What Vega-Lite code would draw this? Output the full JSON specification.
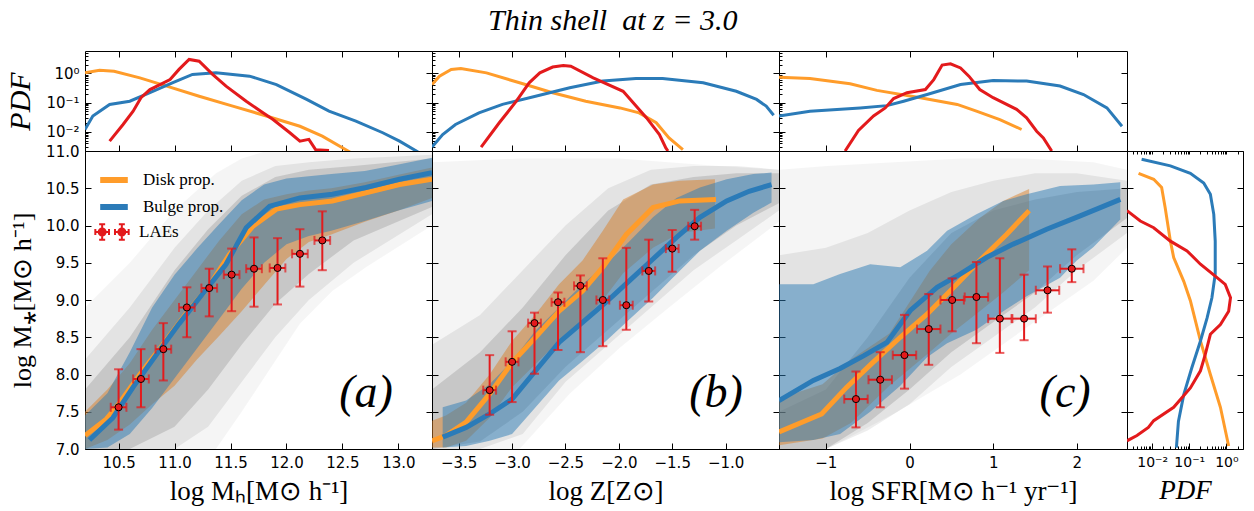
{
"$schema":"https://vega.github.io/schema/vega-lite/v6.json",
"background":"white",
"padding":{"left":5,"top":6,"right":5,"bottom":2},
"title":{"text":"Thin shell\u00a0\u00a0at z = 3.0","font":"Liberation Serif","fontStyle":"italic","fontSize":30,"fontWeight":"normal","anchor":"middle","offset":14,"dx":-12,"color":"black"},
"columns":4,"spacing":0,"bounds":"flush","align":"each",
"resolve":{"scale":{"x":"independent","y":"independent","color":"independent","fill":"independent"},"legend":{"color":"independent","fill":"independent"}},
"datasets":{
"lines":[
{"p":"a","s":"Disk prop.","x":10.2,"y":7.18},{"p":"a","s":"Disk prop.","x":10.39,"y":7.4},{"p":"a","s":"Disk prop.","x":10.5,"y":7.6},{"p":"a","s":"Disk prop.","x":10.69,"y":8.0},{"p":"a","s":"Disk prop.","x":10.9,"y":8.41},{"p":"a","s":"Disk prop.","x":11.1,"y":8.81},{"p":"a","s":"Disk prop.","x":11.3,"y":9.17},{"p":"a","s":"Disk prop.","x":11.49,"y":9.61},{"p":"a","s":"Disk prop.","x":11.7,"y":9.99},{"p":"a","s":"Disk prop.","x":11.91,"y":10.22},{"p":"a","s":"Disk prop.","x":12.12,"y":10.28},{"p":"a","s":"Disk prop.","x":12.41,"y":10.33},{"p":"a","s":"Disk prop.","x":12.71,"y":10.44},{"p":"a","s":"Disk prop.","x":13.01,"y":10.55},{"p":"a","s":"Disk prop.","x":13.3,"y":10.62},
{"p":"a","s":"Bulge prop.","x":10.24,"y":7.12},{"p":"a","s":"Bulge prop.","x":10.45,"y":7.42},{"p":"a","s":"Bulge prop.","x":10.63,"y":7.83},{"p":"a","s":"Bulge prop.","x":10.84,"y":8.27},{"p":"a","s":"Bulge prop.","x":11.04,"y":8.68},{"p":"a","s":"Bulge prop.","x":11.25,"y":9.08},{"p":"a","s":"Bulge prop.","x":11.46,"y":9.48},{"p":"a","s":"Bulge prop.","x":11.64,"y":9.97},{"p":"a","s":"Bulge prop.","x":11.85,"y":10.26},{"p":"a","s":"Bulge prop.","x":12.12,"y":10.37},{"p":"a","s":"Bulge prop.","x":12.41,"y":10.42},{"p":"a","s":"Bulge prop.","x":12.71,"y":10.51},{"p":"a","s":"Bulge prop.","x":13.01,"y":10.62},{"p":"a","s":"Bulge prop.","x":13.3,"y":10.71},
{"p":"b","s":"Disk prop.","x":-3.75,"y":7.11},{"p":"b","s":"Disk prop.","x":-3.62,"y":7.18},{"p":"b","s":"Disk prop.","x":-3.43,"y":7.36},{"p":"b","s":"Disk prop.","x":-3.21,"y":7.74},{"p":"b","s":"Disk prop.","x":-3.0,"y":8.16},{"p":"b","s":"Disk prop.","x":-2.78,"y":8.5},{"p":"b","s":"Disk prop.","x":-2.56,"y":8.85},{"p":"b","s":"Disk prop.","x":-2.34,"y":9.12},{"p":"b","s":"Disk prop.","x":-2.15,"y":9.44},{"p":"b","s":"Disk prop.","x":-1.93,"y":9.88},{"p":"b","s":"Disk prop.","x":-1.68,"y":10.24},{"p":"b","s":"Disk prop.","x":-1.43,"y":10.33},{"p":"b","s":"Disk prop.","x":-1.09,"y":10.35},
{"p":"b","s":"Bulge prop.","x":-3.65,"y":7.16},{"p":"b","s":"Bulge prop.","x":-3.43,"y":7.29},{"p":"b","s":"Bulge prop.","x":-3.21,"y":7.47},{"p":"b","s":"Bulge prop.","x":-3.0,"y":7.67},{"p":"b","s":"Bulge prop.","x":-2.78,"y":8.05},{"p":"b","s":"Bulge prop.","x":-2.56,"y":8.43},{"p":"b","s":"Bulge prop.","x":-2.34,"y":8.7},{"p":"b","s":"Bulge prop.","x":-2.12,"y":8.97},{"p":"b","s":"Bulge prop.","x":-1.9,"y":9.26},{"p":"b","s":"Bulge prop.","x":-1.68,"y":9.55},{"p":"b","s":"Bulge prop.","x":-1.46,"y":9.84},{"p":"b","s":"Bulge prop.","x":-1.24,"y":10.11},{"p":"b","s":"Bulge prop.","x":-0.99,"y":10.33},{"p":"b","s":"Bulge prop.","x":-0.78,"y":10.46},{"p":"b","s":"Bulge prop.","x":-0.57,"y":10.55},
{"p":"c","s":"Disk prop.","x":-1.56,"y":7.23},{"p":"c","s":"Disk prop.","x":-1.05,"y":7.47},{"p":"c","s":"Disk prop.","x":-0.75,"y":7.83},{"p":"c","s":"Disk prop.","x":-0.43,"y":8.17},{"p":"c","s":"Disk prop.","x":-0.11,"y":8.5},{"p":"c","s":"Disk prop.","x":0.21,"y":8.81},{"p":"c","s":"Disk prop.","x":0.53,"y":9.17},{"p":"c","s":"Disk prop.","x":0.84,"y":9.53},{"p":"c","s":"Disk prop.","x":1.16,"y":9.88},{"p":"c","s":"Disk prop.","x":1.43,"y":10.2},
{"p":"c","s":"Bulge prop.","x":-1.56,"y":7.65},{"p":"c","s":"Bulge prop.","x":-1.15,"y":7.92},{"p":"c","s":"Bulge prop.","x":-0.83,"y":8.08},{"p":"c","s":"Bulge prop.","x":-0.55,"y":8.25},{"p":"c","s":"Bulge prop.","x":-0.27,"y":8.43},{"p":"c","s":"Bulge prop.","x":0.01,"y":8.86},{"p":"c","s":"Bulge prop.","x":0.33,"y":9.17},{"p":"c","s":"Bulge prop.","x":0.61,"y":9.35},{"p":"c","s":"Bulge prop.","x":0.92,"y":9.57},{"p":"c","s":"Bulge prop.","x":1.24,"y":9.75},{"p":"c","s":"Bulge prop.","x":1.64,"y":9.95},{"p":"c","s":"Bulge prop.","x":2.04,"y":10.13},{"p":"c","s":"Bulge prop.","x":2.52,"y":10.35}
],
"bands":[
{"p":"a","s":"Disk prop.","x":10.2,"lo":7.0,"hi":7.5},{"p":"a","s":"Disk prop.","x":10.4,"lo":7.12,"hi":7.8},{"p":"a","s":"Disk prop.","x":10.6,"lo":7.33,"hi":8.15},{"p":"a","s":"Disk prop.","x":10.8,"lo":7.6,"hi":8.6},{"p":"a","s":"Disk prop.","x":11.0,"lo":7.85,"hi":9.0},{"p":"a","s":"Disk prop.","x":11.2,"lo":8.2,"hi":9.4},{"p":"a","s":"Disk prop.","x":11.4,"lo":8.52,"hi":9.8},{"p":"a","s":"Disk prop.","x":11.6,"lo":8.85,"hi":10.15},{"p":"a","s":"Disk prop.","x":11.8,"lo":9.2,"hi":10.35},{"p":"a","s":"Disk prop.","x":12.0,"lo":9.55,"hi":10.42},{"p":"a","s":"Disk prop.","x":12.2,"lo":9.78,"hi":10.47},{"p":"a","s":"Disk prop.","x":12.4,"lo":9.88,"hi":10.5},{"p":"a","s":"Disk prop.","x":12.7,"lo":10.05,"hi":10.58},{"p":"a","s":"Disk prop.","x":13.0,"lo":10.2,"hi":10.68},{"p":"a","s":"Disk prop.","x":13.3,"lo":10.37,"hi":10.78},
{"p":"a","s":"Bulge prop.","x":10.2,"lo":7.0,"hi":7.45},{"p":"a","s":"Bulge prop.","x":10.4,"lo":7.02,"hi":7.75},{"p":"a","s":"Bulge prop.","x":10.6,"lo":7.2,"hi":8.3},{"p":"a","s":"Bulge prop.","x":10.8,"lo":7.55,"hi":8.9},{"p":"a","s":"Bulge prop.","x":11.0,"lo":7.95,"hi":9.34},{"p":"a","s":"Bulge prop.","x":11.2,"lo":8.35,"hi":9.69},{"p":"a","s":"Bulge prop.","x":11.4,"lo":8.75,"hi":10.02},{"p":"a","s":"Bulge prop.","x":11.6,"lo":9.15,"hi":10.34},{"p":"a","s":"Bulge prop.","x":11.8,"lo":9.5,"hi":10.55},{"p":"a","s":"Bulge prop.","x":12.0,"lo":9.75,"hi":10.63},{"p":"a","s":"Bulge prop.","x":12.2,"lo":9.86,"hi":10.66},{"p":"a","s":"Bulge prop.","x":12.4,"lo":9.93,"hi":10.69},{"p":"a","s":"Bulge prop.","x":12.7,"lo":10.06,"hi":10.73},{"p":"a","s":"Bulge prop.","x":13.0,"lo":10.2,"hi":10.82},{"p":"a","s":"Bulge prop.","x":13.3,"lo":10.33,"hi":10.91},
{"p":"b","s":"Disk prop.","x":-3.75,"lo":7.02,"hi":7.38},{"p":"b","s":"Disk prop.","x":-3.62,"lo":7.02,"hi":7.45},{"p":"b","s":"Disk prop.","x":-3.43,"lo":7.11,"hi":7.62},{"p":"b","s":"Disk prop.","x":-3.21,"lo":7.42,"hi":8.0},{"p":"b","s":"Disk prop.","x":-3.0,"lo":7.83,"hi":8.45},{"p":"b","s":"Disk prop.","x":-2.78,"lo":8.14,"hi":8.81},{"p":"b","s":"Disk prop.","x":-2.56,"lo":8.45,"hi":9.21},{"p":"b","s":"Disk prop.","x":-2.34,"lo":8.72,"hi":9.53},{"p":"b","s":"Disk prop.","x":-2.15,"lo":9.0,"hi":9.93},{"p":"b","s":"Disk prop.","x":-1.96,"lo":9.36,"hi":10.35},{"p":"b","s":"Disk prop.","x":-1.68,"lo":9.7,"hi":10.55},{"p":"b","s":"Disk prop.","x":-1.43,"lo":9.9,"hi":10.6},{"p":"b","s":"Disk prop.","x":-1.1,"lo":9.96,"hi":10.62},
{"p":"b","s":"Bulge prop.","x":-3.65,"lo":7.02,"hi":7.56},{"p":"b","s":"Bulge prop.","x":-3.43,"lo":7.04,"hi":7.65},{"p":"b","s":"Bulge prop.","x":-3.21,"lo":7.11,"hi":7.87},{"p":"b","s":"Bulge prop.","x":-3.0,"lo":7.2,"hi":8.18},{"p":"b","s":"Bulge prop.","x":-2.78,"lo":7.56,"hi":8.59},{"p":"b","s":"Bulge prop.","x":-2.56,"lo":7.92,"hi":8.9},{"p":"b","s":"Bulge prop.","x":-2.34,"lo":8.18,"hi":9.21},{"p":"b","s":"Bulge prop.","x":-2.12,"lo":8.45,"hi":9.48},{"p":"b","s":"Bulge prop.","x":-1.9,"lo":8.74,"hi":9.79},{"p":"b","s":"Bulge prop.","x":-1.68,"lo":9.03,"hi":10.11},{"p":"b","s":"Bulge prop.","x":-1.46,"lo":9.35,"hi":10.37},{"p":"b","s":"Bulge prop.","x":-1.24,"lo":9.66,"hi":10.51},{"p":"b","s":"Bulge prop.","x":-0.99,"lo":9.93,"hi":10.62},{"p":"b","s":"Bulge prop.","x":-0.74,"lo":10.17,"hi":10.69},{"p":"b","s":"Bulge prop.","x":-0.57,"lo":10.31,"hi":10.71},
{"p":"c","s":"Disk prop.","x":-1.56,"lo":7.05,"hi":7.68},{"p":"c","s":"Disk prop.","x":-1.04,"lo":7.14,"hi":7.87},{"p":"c","s":"Disk prop.","x":-0.7,"lo":7.35,"hi":8.2},{"p":"c","s":"Disk prop.","x":-0.24,"lo":7.85,"hi":8.55},{"p":"c","s":"Disk prop.","x":0.24,"lo":8.3,"hi":9.39},{"p":"c","s":"Disk prop.","x":0.5,"lo":8.55,"hi":9.75},{"p":"c","s":"Disk prop.","x":0.84,"lo":8.85,"hi":10.1},{"p":"c","s":"Disk prop.","x":1.12,"lo":9.1,"hi":10.33},{"p":"c","s":"Disk prop.","x":1.43,"lo":9.4,"hi":10.49},
{"p":"c","s":"Bulge prop.","x":-1.56,"lo":7.09,"hi":9.21},{"p":"c","s":"Bulge prop.","x":-1.15,"lo":7.12,"hi":9.21},{"p":"c","s":"Bulge prop.","x":-0.83,"lo":7.2,"hi":9.35},{"p":"c","s":"Bulge prop.","x":-0.47,"lo":7.5,"hi":9.48},{"p":"c","s":"Bulge prop.","x":-0.11,"lo":7.85,"hi":9.44},{"p":"c","s":"Bulge prop.","x":0.21,"lo":8.23,"hi":9.66},{"p":"c","s":"Bulge prop.","x":0.45,"lo":8.42,"hi":9.93},{"p":"c","s":"Bulge prop.","x":0.8,"lo":8.6,"hi":10.15},{"p":"c","s":"Bulge prop.","x":1.12,"lo":8.85,"hi":10.33},{"p":"c","s":"Bulge prop.","x":1.4,"lo":9.05,"hi":10.42},{"p":"c","s":"Bulge prop.","x":1.8,"lo":9.3,"hi":10.53},{"p":"c","s":"Bulge prop.","x":2.0,"lo":9.53,"hi":10.54},{"p":"c","s":"Bulge prop.","x":2.2,"lo":9.71,"hi":10.55},{"p":"c","s":"Bulge prop.","x":2.52,"lo":10.08,"hi":10.58}
],
"grey":[
{"p":"a","l":1,"x":10.2,"lo":7,"hi":8.9},{"p":"a","l":1,"x":10.6,"lo":7,"hi":9.5},{"p":"a","l":1,"x":11.0,"lo":7,"hi":10.2},{"p":"a","l":1,"x":11.37,"lo":7,"hi":10.7},{"p":"a","l":1,"x":11.6,"lo":7.5,"hi":10.9},{"p":"a","l":1,"x":11.82,"lo":8.0,"hi":11},{"p":"a","l":1,"x":12.12,"lo":8.68,"hi":11},{"p":"a","l":1,"x":12.41,"lo":9.12,"hi":11},{"p":"a","l":1,"x":12.71,"lo":9.44,"hi":11},{"p":"a","l":1,"x":13.3,"lo":10.0,"hi":11},
{"p":"a","l":2,"x":10.2,"lo":7,"hi":8.2},{"p":"a","l":2,"x":10.6,"lo":7,"hi":8.9},{"p":"a","l":2,"x":11.0,"lo":7,"hi":9.7},{"p":"a","l":2,"x":11.3,"lo":7.3,"hi":10.2},{"p":"a","l":2,"x":11.6,"lo":7.9,"hi":10.6},{"p":"a","l":2,"x":11.9,"lo":8.5,"hi":10.8},{"p":"a","l":2,"x":12.2,"lo":9.0,"hi":10.85},{"p":"a","l":2,"x":12.6,"lo":9.5,"hi":10.9},{"p":"a","l":2,"x":13.3,"lo":10.15,"hi":10.95},
{"p":"a","l":3,"x":10.2,"lo":7,"hi":7.8},{"p":"a","l":3,"x":10.6,"lo":7,"hi":8.5},{"p":"a","l":3,"x":11.0,"lo":7.3,"hi":9.4},{"p":"a","l":3,"x":11.3,"lo":7.8,"hi":9.95},{"p":"a","l":3,"x":11.6,"lo":8.4,"hi":10.4},{"p":"a","l":3,"x":11.9,"lo":8.95,"hi":10.65},{"p":"a","l":3,"x":12.2,"lo":9.35,"hi":10.75},{"p":"a","l":3,"x":12.6,"lo":9.8,"hi":10.8},{"p":"a","l":3,"x":13.3,"lo":10.25,"hi":10.9},
{"p":"b","l":1,"x":-3.75,"lo":7,"hi":10.85},{"p":"b","l":1,"x":-2.93,"lo":7,"hi":10.9},{"p":"b","l":1,"x":-2.46,"lo":7.74,"hi":10.9},{"p":"b","l":1,"x":-1.99,"lo":8.36,"hi":10.9},{"p":"b","l":1,"x":-1.53,"lo":8.9,"hi":10.85},{"p":"b","l":1,"x":-1.06,"lo":9.44,"hi":10.8},{"p":"b","l":1,"x":-0.5,"lo":10.05,"hi":10.75},
{"p":"b","l":2,"x":-3.75,"lo":7,"hi":8.4},{"p":"b","l":2,"x":-3.3,"lo":7,"hi":8.8},{"p":"b","l":2,"x":-2.9,"lo":7.2,"hi":9.4},{"p":"b","l":2,"x":-2.5,"lo":7.9,"hi":10.0},{"p":"b","l":2,"x":-2.1,"lo":8.4,"hi":10.5},{"p":"b","l":2,"x":-1.7,"lo":8.9,"hi":10.75},{"p":"b","l":2,"x":-1.3,"lo":9.4,"hi":10.8},{"p":"b","l":2,"x":-0.9,"lo":9.8,"hi":10.8},{"p":"b","l":2,"x":-0.5,"lo":10.2,"hi":10.75},
{"p":"b","l":3,"x":-3.75,"lo":7,"hi":7.8},{"p":"b","l":3,"x":-3.3,"lo":7.1,"hi":8.3},{"p":"b","l":3,"x":-2.9,"lo":7.5,"hi":8.9},{"p":"b","l":3,"x":-2.5,"lo":8.1,"hi":9.6},{"p":"b","l":3,"x":-2.1,"lo":8.6,"hi":10.2},{"p":"b","l":3,"x":-1.7,"lo":9.1,"hi":10.55},{"p":"b","l":3,"x":-1.3,"lo":9.6,"hi":10.65},{"p":"b","l":3,"x":-0.9,"lo":10.0,"hi":10.7},{"p":"b","l":3,"x":-0.5,"lo":10.3,"hi":10.7},
{"p":"c","l":1,"x":-1.56,"lo":7,"hi":10.75},{"p":"c","l":1,"x":-0.99,"lo":7,"hi":10.8},{"p":"c","l":1,"x":-0.19,"lo":7.47,"hi":10.85},{"p":"c","l":1,"x":0.61,"lo":8.0,"hi":10.9},{"p":"c","l":1,"x":1.4,"lo":8.63,"hi":10.9},{"p":"c","l":1,"x":2.2,"lo":9.26,"hi":10.85},{"p":"c","l":1,"x":2.6,"lo":9.7,"hi":10.75},
{"p":"c","l":2,"x":-1.56,"lo":7,"hi":9.6},{"p":"c","l":2,"x":-1.0,"lo":7,"hi":9.7},{"p":"c","l":2,"x":-0.5,"lo":7.25,"hi":9.9},{"p":"c","l":2,"x":0,"lo":7.6,"hi":10.2},{"p":"c","l":2,"x":0.5,"lo":8.1,"hi":10.45},{"p":"c","l":2,"x":1.0,"lo":8.5,"hi":10.6},{"p":"c","l":2,"x":1.5,"lo":8.9,"hi":10.7},{"p":"c","l":2,"x":2.0,"lo":9.4,"hi":10.7},{"p":"c","l":2,"x":2.6,"lo":9.9,"hi":10.6},
{"p":"c","l":3,"x":-1.56,"lo":7,"hi":7.5},{"p":"c","l":3,"x":-1.0,"lo":7,"hi":7.8},{"p":"c","l":3,"x":-0.5,"lo":7.35,"hi":8.5},{"p":"c","l":3,"x":0,"lo":7.8,"hi":9.3},{"p":"c","l":3,"x":0.5,"lo":8.3,"hi":9.9},{"p":"c","l":3,"x":1.0,"lo":8.7,"hi":10.2},{"p":"c","l":3,"x":1.5,"lo":9.1,"hi":10.35},{"p":"c","l":3,"x":2.0,"lo":9.6,"hi":10.45},{"p":"c","l":3,"x":2.6,"lo":10.1,"hi":10.5}
],
"lae":[
{"p":"a","s":"LAEs","x":10.5,"y":7.56,"ylo":7.26,"yhi":8.07,"xlo":10.43,"xhi":10.57},{"p":"a","s":"LAEs","x":10.7,"y":7.94,"ylo":7.56,"yhi":8.34,"xlo":10.63,"xhi":10.77},{"p":"a","s":"LAEs","x":10.9,"y":8.34,"ylo":7.92,"yhi":8.69,"xlo":10.83,"xhi":10.97},{"p":"a","s":"LAEs","x":11.11,"y":8.9,"ylo":8.5,"yhi":9.17,"xlo":11.04,"xhi":11.18},{"p":"a","s":"LAEs","x":11.31,"y":9.16,"ylo":8.78,"yhi":9.42,"xlo":11.24,"xhi":11.38},{"p":"a","s":"LAEs","x":11.51,"y":9.34,"ylo":8.85,"yhi":9.69,"xlo":11.44,"xhi":11.58},{"p":"a","s":"LAEs","x":11.71,"y":9.42,"ylo":8.91,"yhi":9.84,"xlo":11.64,"xhi":11.78},{"p":"a","s":"LAEs","x":11.92,"y":9.43,"ylo":8.94,"yhi":9.83,"xlo":11.85,"xhi":11.99},{"p":"a","s":"LAEs","x":12.12,"y":9.62,"ylo":9.18,"yhi":9.95,"xlo":12.05,"xhi":12.19},{"p":"a","s":"LAEs","x":12.32,"y":9.8,"ylo":9.4,"yhi":10.19,"xlo":12.25,"xhi":12.39},
{"p":"b","s":"LAEs","x":-3.21,"y":7.79,"ylo":7.46,"yhi":8.26,"xlo":-3.27,"xhi":-3.15},{"p":"b","s":"LAEs","x":-3.0,"y":8.17,"ylo":7.63,"yhi":8.58,"xlo":-3.06,"xhi":-2.94},{"p":"b","s":"LAEs","x":-2.79,"y":8.69,"ylo":8.01,"yhi":8.83,"xlo":-2.85,"xhi":-2.73},{"p":"b","s":"LAEs","x":-2.57,"y":8.97,"ylo":8.33,"yhi":9.1,"xlo":-2.63,"xhi":-2.51},{"p":"b","s":"LAEs","x":-2.36,"y":9.19,"ylo":8.3,"yhi":9.33,"xlo":-2.42,"xhi":-2.3},{"p":"b","s":"LAEs","x":-2.15,"y":9.0,"ylo":8.38,"yhi":9.56,"xlo":-2.21,"xhi":-2.09},{"p":"b","s":"LAEs","x":-1.93,"y":8.93,"ylo":8.6,"yhi":9.7,"xlo":-1.99,"xhi":-1.87},{"p":"b","s":"LAEs","x":-1.72,"y":9.39,"ylo":8.98,"yhi":9.81,"xlo":-1.78,"xhi":-1.66},{"p":"b","s":"LAEs","x":-1.5,"y":9.69,"ylo":9.38,"yhi":9.94,"xlo":-1.56,"xhi":-1.44},{"p":"b","s":"LAEs","x":-1.29,"y":9.99,"ylo":9.81,"yhi":10.21,"xlo":-1.35,"xhi":-1.23},
{"p":"c","s":"LAEs","x":-0.64,"y":7.67,"ylo":7.29,"yhi":8.04,"xlo":-0.78,"xhi":-0.5},{"p":"c","s":"LAEs","x":-0.35,"y":7.93,"ylo":7.56,"yhi":8.3,"xlo":-0.49,"xhi":-0.21},{"p":"c","s":"LAEs","x":-0.06,"y":8.26,"ylo":7.81,"yhi":8.8,"xlo":-0.2,"xhi":0.08},{"p":"c","s":"LAEs","x":0.23,"y":8.61,"ylo":8.13,"yhi":9.08,"xlo":0.09,"xhi":0.37},{"p":"c","s":"LAEs","x":0.51,"y":9.0,"ylo":8.58,"yhi":9.29,"xlo":0.37,"xhi":0.65},{"p":"c","s":"LAEs","x":0.8,"y":9.04,"ylo":8.42,"yhi":9.51,"xlo":0.66,"xhi":0.94},{"p":"c","s":"LAEs","x":1.08,"y":8.75,"ylo":8.29,"yhi":9.56,"xlo":0.94,"xhi":1.22},{"p":"c","s":"LAEs","x":1.37,"y":8.75,"ylo":8.46,"yhi":9.34,"xlo":1.23,"xhi":1.51},{"p":"c","s":"LAEs","x":1.65,"y":9.13,"ylo":8.83,"yhi":9.45,"xlo":1.51,"xhi":1.79},{"p":"c","s":"LAEs","x":1.94,"y":9.42,"ylo":9.24,"yhi":9.68,"xlo":1.8,"xhi":2.08}
],
"pdf":[
{"p":"a","s":"D","x":10.2,"v":1.05},{"p":"a","s":"D","x":10.33,"v":1.29},{"p":"a","s":"D","x":10.46,"v":1.2},{"p":"a","s":"D","x":10.69,"v":0.71},{"p":"a","s":"D","x":10.93,"v":0.37},{"p":"a","s":"D","x":11.22,"v":0.166},{"p":"a","s":"D","x":11.52,"v":0.076},{"p":"a","s":"D","x":11.82,"v":0.035},{"p":"a","s":"D","x":12.12,"v":0.0155},{"p":"a","s":"D","x":12.32,"v":0.0071},{"p":"a","s":"D","x":12.55,"v":0.0022},{"p":"a","s":"D","x":12.7,"v":0.001},
{"p":"a","s":"B","x":10.2,"v":0.012},{"p":"a","s":"B","x":10.27,"v":0.035},{"p":"a","s":"B","x":10.42,"v":0.087},{"p":"a","s":"B","x":10.6,"v":0.112},{"p":"a","s":"B","x":10.78,"v":0.219},{"p":"a","s":"B","x":10.98,"v":0.479},{"p":"a","s":"B","x":11.16,"v":0.93},{"p":"a","s":"B","x":11.37,"v":1.05},{"p":"a","s":"B","x":11.67,"v":0.81},{"p":"a","s":"B","x":11.91,"v":0.417},{"p":"a","s":"B","x":12.18,"v":0.129},{"p":"a","s":"B","x":12.38,"v":0.051},{"p":"a","s":"B","x":12.62,"v":0.0234},{"p":"a","s":"B","x":12.86,"v":0.0093},{"p":"a","s":"B","x":13.01,"v":0.0048},{"p":"a","s":"B","x":13.16,"v":0.0022},{"p":"a","s":"B","x":13.3,"v":0.001},
{"p":"a","s":"L","x":10.42,"v":0.0048},{"p":"a","s":"L","x":10.54,"v":0.0178},{"p":"a","s":"L","x":10.63,"v":0.051},{"p":"a","s":"L","x":10.7,"v":0.148},{"p":"a","s":"L","x":10.78,"v":0.28},{"p":"a","s":"L","x":10.87,"v":0.417},{"p":"a","s":"L","x":10.96,"v":0.62},{"p":"a","s":"L","x":11.04,"v":1.38},{"p":"a","s":"L","x":11.13,"v":3.02},{"p":"a","s":"L","x":11.22,"v":2.63},{"p":"a","s":"L","x":11.34,"v":0.93},{"p":"a","s":"L","x":11.46,"v":0.37},{"p":"a","s":"L","x":11.64,"v":0.112},{"p":"a","s":"L","x":11.79,"v":0.0447},{"p":"a","s":"L","x":11.88,"v":0.0263},{"p":"a","s":"L","x":12.03,"v":0.0093},{"p":"a","s":"L","x":12.12,"v":0.0048},{"p":"a","s":"L","x":12.2,"v":0.0055},{"p":"a","s":"L","x":12.26,"v":0.00245},{"p":"a","s":"L","x":12.38,"v":0.0023},
{"p":"b","s":"D","x":-3.75,"v":0.417},{"p":"b","s":"D","x":-3.68,"v":0.81},{"p":"b","s":"D","x":-3.57,"v":1.38},{"p":"b","s":"D","x":-3.48,"v":1.48},{"p":"b","s":"D","x":-3.24,"v":1.05},{"p":"b","s":"D","x":-2.93,"v":0.479},{"p":"b","s":"D","x":-2.62,"v":0.219},{"p":"b","s":"D","x":-2.31,"v":0.112},{"p":"b","s":"D","x":-1.99,"v":0.066},{"p":"b","s":"D","x":-1.81,"v":0.0447},{"p":"b","s":"D","x":-1.65,"v":0.0204},{"p":"b","s":"D","x":-1.53,"v":0.0062},{"p":"b","s":"D","x":-1.4,"v":0.00245},
{"p":"b","s":"B","x":-3.75,"v":0.003},{"p":"b","s":"B","x":-3.65,"v":0.0081},{"p":"b","s":"B","x":-3.53,"v":0.0178},{"p":"b","s":"B","x":-3.31,"v":0.0447},{"p":"b","s":"B","x":-3.09,"v":0.087},{"p":"b","s":"B","x":-2.78,"v":0.166},{"p":"b","s":"B","x":-2.46,"v":0.324},{"p":"b","s":"B","x":-2.15,"v":0.55},{"p":"b","s":"B","x":-1.84,"v":0.676},{"p":"b","s":"B","x":-1.59,"v":0.676},{"p":"b","s":"B","x":-1.21,"v":0.479},{"p":"b","s":"B","x":-0.9,"v":0.245},{"p":"b","s":"B","x":-0.71,"v":0.129},{"p":"b","s":"B","x":-0.62,"v":0.076},{"p":"b","s":"B","x":-0.55,"v":0.037},
{"p":"b","s":"L","x":-3.29,"v":0.003},{"p":"b","s":"L","x":-3.12,"v":0.0204},{"p":"b","s":"L","x":-2.96,"v":0.112},{"p":"b","s":"L","x":-2.84,"v":0.479},{"p":"b","s":"L","x":-2.74,"v":1.05},{"p":"b","s":"L","x":-2.62,"v":1.66},{"p":"b","s":"L","x":-2.52,"v":1.86},{"p":"b","s":"L","x":-2.45,"v":1.78},{"p":"b","s":"L","x":-2.24,"v":0.71},{"p":"b","s":"L","x":-1.96,"v":0.245},{"p":"b","s":"L","x":-1.74,"v":0.03},{"p":"b","s":"L","x":-1.62,"v":0.0081},{"p":"b","s":"L","x":-1.56,"v":0.0028},{"p":"b","s":"L","x":-1.54,"v":0.0022},
{"p":"c","s":"D","x":-1.56,"v":0.74},{"p":"c","s":"D","x":-1.19,"v":0.676},{"p":"c","s":"D","x":-0.71,"v":0.447},{"p":"c","s":"D","x":-0.39,"v":0.263},{"p":"c","s":"D","x":0.13,"v":0.148},{"p":"c","s":"D","x":0.57,"v":0.087},{"p":"c","s":"D","x":0.8,"v":0.051},{"p":"c","s":"D","x":1.08,"v":0.0263},{"p":"c","s":"D","x":1.34,"v":0.012},
{"p":"c","s":"B","x":-1.56,"v":0.035},{"p":"c","s":"B","x":-1.19,"v":0.051},{"p":"c","s":"B","x":-0.59,"v":0.066},{"p":"c","s":"B","x":-0.27,"v":0.079},{"p":"c","s":"B","x":-0.07,"v":0.112},{"p":"c","s":"B","x":0.21,"v":0.19},{"p":"c","s":"B","x":0.61,"v":0.417},{"p":"c","s":"B","x":1.0,"v":0.575},{"p":"c","s":"B","x":1.4,"v":0.55},{"p":"c","s":"B","x":1.8,"v":0.37},{"p":"c","s":"B","x":2.08,"v":0.19},{"p":"c","s":"B","x":2.36,"v":0.066},{"p":"c","s":"B","x":2.54,"v":0.0155},
{"p":"c","s":"L","x":-0.77,"v":0.0022},{"p":"c","s":"L","x":-0.61,"v":0.0112},{"p":"c","s":"L","x":-0.43,"v":0.035},{"p":"c","s":"L","x":-0.29,"v":0.066},{"p":"c","s":"L","x":-0.19,"v":0.138},{"p":"c","s":"L","x":-0.03,"v":0.219},{"p":"c","s":"L","x":0.19,"v":0.282},{"p":"c","s":"L","x":0.29,"v":0.617},{"p":"c","s":"L","x":0.39,"v":1.95},{"p":"c","s":"L","x":0.49,"v":2.14},{"p":"c","s":"L","x":0.61,"v":1.55},{"p":"c","s":"L","x":0.71,"v":0.81},{"p":"c","s":"L","x":0.84,"v":0.282},{"p":"c","s":"L","x":1.0,"v":0.148},{"p":"c","s":"L","x":1.28,"v":0.059},{"p":"c","s":"L","x":1.4,"v":0.03},{"p":"c","s":"L","x":1.52,"v":0.0105},{"p":"c","s":"L","x":1.6,"v":0.0062},{"p":"c","s":"L","x":1.7,"v":0.0022}
],
"pdfr":[
{"s":"B","y":10.89,"v":0.0052},{"s":"B","y":10.8,"v":0.031},{"s":"B","y":10.7,"v":0.107},{"s":"B","y":10.57,"v":0.245},{"s":"B","y":10.42,"v":0.37},{"s":"B","y":10.15,"v":0.457},{"s":"B","y":9.79,"v":0.5},{"s":"B","y":9.35,"v":0.5},{"s":"B","y":9.03,"v":0.407},{"s":"B","y":8.76,"v":0.302},{"s":"B","y":8.45,"v":0.2},{"s":"B","y":8.09,"v":0.117},{"s":"B","y":7.73,"v":0.071},{"s":"B","y":7.37,"v":0.051},{"s":"B","y":7.02,"v":0.045},
{"s":"D","y":10.7,"v":0.0043},{"s":"D","y":10.62,"v":0.011},{"s":"D","y":10.51,"v":0.018},{"s":"D","y":10.24,"v":0.0224},{"s":"D","y":9.79,"v":0.031},{"s":"D","y":9.57,"v":0.038},{"s":"D","y":9.25,"v":0.071},{"s":"D","y":8.99,"v":0.107},{"s":"D","y":8.45,"v":0.2},{"s":"D","y":8.0,"v":0.37},{"s":"D","y":7.56,"v":0.69},{"s":"D","y":7.04,"v":1.15},
{"s":"L","y":10.2,"v":0.0021},{"s":"L","y":10.06,"v":0.0048},{"s":"L","y":9.97,"v":0.011},{"s":"L","y":9.79,"v":0.031},{"s":"L","y":9.66,"v":0.087},{"s":"L","y":9.48,"v":0.2},{"s":"L","y":9.32,"v":0.5},{"s":"L","y":9.21,"v":0.93},{"s":"L","y":9.03,"v":1.29},{"s":"L","y":8.85,"v":1.15},{"s":"L","y":8.67,"v":0.69},{"s":"L","y":8.54,"v":0.37},{"s":"L","y":8.27,"v":0.27},{"s":"L","y":8.05,"v":0.2},{"s":"L","y":7.82,"v":0.107},{"s":"L","y":7.56,"v":0.038},{"s":"L","y":7.38,"v":0.011},{"s":"L","y":7.29,"v":0.0079},{"s":"L","y":7.18,"v":0.0039},{"s":"L","y":7.11,"v":0.0021}
],
"lab":[{"p":"a","x":12.71,"y":7.75,"t":"(a)"},{"p":"b","x":-1.09,"y":7.75,"t":"(b)"},{"p":"c","x":1.86,"y":7.75,"t":"(c)"}]
},
"concat":[
{"width":347,"height":100,"data":{"name":"pdf"},"transform":[{"filter":"datum.p=='a'"}],
 "resolve":{"axis":{"x":"independent","y":"independent"}},
 "layer":[
  {"transform":[{"filter":"datum.s=='D'"}],"mark":{"type":"line","color":"#ff9c2a","strokeWidth":3,"clip":true},"encoding":{"x":{"field":"x","type":"quantitative","scale":{"domain":[10.2,13.3],"nice":false,"zero":false},"axis":{"orient":"bottom","values":[10.5,11,11.5,12,12.5,13],"labels":false,"title":null}},"y":{"field":"v","type":"quantitative","scale":{"type":"log","domain":[0.0022,5.9],"nice":false},"axis":{"orient":"left","values":[0.01,0.1,1],"labelExpr":"datum.value < 0.05 ? '10⁻²' : datum.value < 0.5 ? '10⁻¹' : '10⁰'","title":"PDF","titleFontStyle":"italic","titleFontSize":30,"titlePadding":10}}}},
  {"transform":[{"filter":"datum.s=='B'"}],"mark":{"type":"line","color":"#2b7bb8","strokeWidth":3,"clip":true},"encoding":{"x":{"field":"x","type":"quantitative","scale":{"domain":[10.2,13.3],"nice":false,"zero":false},"axis":null},"y":{"field":"v","type":"quantitative","scale":{"type":"log","domain":[0.0022,5.9],"nice":false},"axis":{"orient":"left","values":[0.003,0.004,0.005,0.006,0.007,0.008,0.009,0.02,0.03,0.04,0.05,0.06,0.07,0.08,0.09,0.2,0.3,0.4,0.5,0.6,0.7,0.8,0.9,2,3,4,5],"labels":false,"title":null,"tickSize":-3}}}},
  {"transform":[{"filter":"datum.s=='L'"}],"mark":{"type":"line","color":"#e31a1c","strokeWidth":3,"clip":true},"encoding":{"x":{"field":"x","type":"quantitative","scale":{"domain":[10.2,13.3],"nice":false,"zero":false},"axis":{"orient":"top","values":[10.5,11,11.5,12,12.5,13],"labels":false,"title":null}},"y":{"field":"v","type":"quantitative","scale":{"type":"log","domain":[0.0022,5.9],"nice":false},"axis":{"orient":"right","values":[0.01,0.1,1],"labels":false,"title":null}}}}
 ]},
{"width":347,"height":100,"data":{"name":"pdf"},"transform":[{"filter":"datum.p=='b'"}],
 "resolve":{"axis":{"x":"independent","y":"independent"}},
 "layer":[
  {"transform":[{"filter":"datum.s=='D'"}],"mark":{"type":"line","color":"#ff9c2a","strokeWidth":3,"clip":true},"encoding":{"x":{"field":"x","type":"quantitative","scale":{"domain":[-3.75,-0.5],"nice":false,"zero":false},"axis":{"orient":"bottom","values":[-3.5,-3,-2.5,-2,-1.5,-1],"labels":false,"title":null}},"y":{"field":"v","type":"quantitative","scale":{"type":"log","domain":[0.0022,5.9],"nice":false},"axis":{"orient":"left","values":[0.01,0.1,1],"labels":false,"title":null}}}},
  {"transform":[{"filter":"datum.s=='B'"}],"mark":{"type":"line","color":"#2b7bb8","strokeWidth":3,"clip":true},"encoding":{"x":{"field":"x","type":"quantitative","scale":{"domain":[-3.75,-0.5],"nice":false,"zero":false},"axis":null},"y":{"field":"v","type":"quantitative","scale":{"type":"log","domain":[0.0022,5.9],"nice":false},"axis":{"orient":"left","values":[0.003,0.004,0.005,0.006,0.007,0.008,0.009,0.02,0.03,0.04,0.05,0.06,0.07,0.08,0.09,0.2,0.3,0.4,0.5,0.6,0.7,0.8,0.9,2,3,4,5],"labels":false,"title":null,"tickSize":-3}}}},
  {"transform":[{"filter":"datum.s=='L'"}],"mark":{"type":"line","color":"#e31a1c","strokeWidth":3,"clip":true},"encoding":{"x":{"field":"x","type":"quantitative","scale":{"domain":[-3.75,-0.5],"nice":false,"zero":false},"axis":{"orient":"top","values":[-3.5,-3,-2.5,-2,-1.5,-1],"labels":false,"title":null}},"y":{"field":"v","type":"quantitative","scale":{"type":"log","domain":[0.0022,5.9],"nice":false},"axis":{"orient":"right","values":[0.01,0.1,1],"labels":false,"title":null}}}}
 ]},
{"width":348,"height":100,"data":{"name":"pdf"},"transform":[{"filter":"datum.p=='c'"}],
 "resolve":{"axis":{"x":"independent","y":"independent"}},
 "layer":[
  {"transform":[{"filter":"datum.s=='D'"}],"mark":{"type":"line","color":"#ff9c2a","strokeWidth":3,"clip":true},"encoding":{"x":{"field":"x","type":"quantitative","scale":{"domain":[-1.56,2.6],"nice":false,"zero":false},"axis":{"orient":"bottom","values":[-1,0,1,2],"labels":false,"title":null}},"y":{"field":"v","type":"quantitative","scale":{"type":"log","domain":[0.0022,5.9],"nice":false},"axis":{"orient":"left","values":[0.01,0.1,1],"labels":false,"title":null}}}},
  {"transform":[{"filter":"datum.s=='B'"}],"mark":{"type":"line","color":"#2b7bb8","strokeWidth":3,"clip":true},"encoding":{"x":{"field":"x","type":"quantitative","scale":{"domain":[-1.56,2.6],"nice":false,"zero":false},"axis":null},"y":{"field":"v","type":"quantitative","scale":{"type":"log","domain":[0.0022,5.9],"nice":false},"axis":{"orient":"left","values":[0.003,0.004,0.005,0.006,0.007,0.008,0.009,0.02,0.03,0.04,0.05,0.06,0.07,0.08,0.09,0.2,0.3,0.4,0.5,0.6,0.7,0.8,0.9,2,3,4,5],"labels":false,"title":null,"tickSize":-3}}}},
  {"transform":[{"filter":"datum.s=='L'"}],"mark":{"type":"line","color":"#e31a1c","strokeWidth":3,"clip":true},"encoding":{"x":{"field":"x","type":"quantitative","scale":{"domain":[-1.56,2.6],"nice":false,"zero":false},"axis":{"orient":"top","values":[-1,0,1,2],"labels":false,"title":null}},"y":{"field":"v","type":"quantitative","scale":{"type":"log","domain":[0.0022,5.9],"nice":false},"axis":{"orient":"right","values":[0.01,0.1,1],"labels":false,"title":null}}}}
 ]},
{"width":116,"height":100,"data":{"values":[{"a":1}]},"mark":{"type":"text","text":""},"view":{"stroke":null}},
{"width":347,"height":298,
 "resolve":{"axis":{"y":"independent"}},
 "encoding":{"x":{"field":"x","type":"quantitative","scale":{"domain":[10.2,13.3],"nice":false,"zero":false},"axis":{"values":[10.5,11,11.5,12,12.5,13],"format":".1f","title":"log Mₕ[M⊙ h⁻¹]"}}},
 "layer":[
  {"data":{"name":"grey"},"transform":[{"filter":"datum.p=='a' && datum.l==1"}],"mark":{"type":"area","color":"#000","opacity":0.04,"clip":true},"encoding":{"y":{"field":"lo","type":"quantitative","scale":{"domain":[7,11],"nice":false,"zero":false},"axis":{"orient":"left","values":[7,7.5,8,8.5,9,9.5,10,10.5,11],"format":".1f","title":"log M⁎[M⊙ h⁻¹]","titleFontSize":26,"titlePadding":10}},"y2":{"field":"hi"}}},
  {"data":{"name":"grey"},"transform":[{"filter":"datum.p=='a' && datum.l==2"}],"mark":{"type":"area","color":"#000","opacity":0.07,"clip":true},"encoding":{"y":{"field":"lo","type":"quantitative","scale":{"domain":[7,11]},"axis":null},"y2":{"field":"hi"}}},
  {"data":{"name":"grey"},"transform":[{"filter":"datum.p=='a' && datum.l==3"}],"mark":{"type":"area","color":"#000","opacity":0.12,"clip":true},"encoding":{"y":{"field":"lo","type":"quantitative","scale":{"domain":[7,11]},"axis":null},"y2":{"field":"hi"}}},
  {"data":{"name":"bands"},"transform":[{"filter":"datum.p=='a' && datum.s=='Disk prop.'"}],"mark":{"type":"area","color":"#d9822b","opacity":0.5,"clip":true},"encoding":{"y":{"field":"lo","type":"quantitative","scale":{"domain":[7,11]},"axis":null},"y2":{"field":"hi"}}},
  {"data":{"name":"bands"},"transform":[{"filter":"datum.p=='a' && datum.s=='Bulge prop.'"}],"mark":{"type":"area","color":"#2c7bb6","opacity":0.5,"clip":true},"encoding":{"y":{"field":"lo","type":"quantitative","scale":{"domain":[7,11]},"axis":null},"y2":{"field":"hi"}}},
  {"data":{"name":"lines"},"transform":[{"filter":"datum.p=='a' && datum.s=='Disk prop.'"}],"mark":{"type":"line","strokeWidth":5,"clip":true},"encoding":{"y":{"field":"y","type":"quantitative","scale":{"domain":[7,11]},"axis":null},"color":{"field":"s","type":"nominal","scale":{"domain":["Disk prop.","Bulge prop."],"range":["#ff9c2a","#2b7bb8"]},"legend":{"orient":"top-left","title":null,"symbolType":"M -1.15 0 L 1.15 0","symbolSize":576,"symbolStrokeWidth":6,"labelFont":"Liberation Serif","labelFontSize":17,"labelColor":"black","rowPadding":0,"padding":0,"offset":14,"labelOffset":14}}}},
  {"data":{"name":"lines"},"transform":[{"filter":"datum.p=='a' && datum.s=='Bulge prop.'"}],"mark":{"type":"line","strokeWidth":5,"clip":true},"encoding":{"y":{"field":"y","type":"quantitative","scale":{"domain":[7,11]},"axis":null},"color":{"field":"s","type":"nominal","scale":{"domain":["Disk prop.","Bulge prop."],"range":["#ff9c2a","#2b7bb8"]}}}},
  {"data":{"name":"lae"},"transform":[{"filter":"datum.p=='a'"}],"mark":{"type":"rule","color":"#e31a1c","strokeWidth":2},"encoding":{"y":{"field":"ylo","type":"quantitative","scale":{"domain":[7,11]},"axis":null},"y2":{"field":"yhi"}}},
  {"data":{"name":"lae"},"transform":[{"filter":"datum.p=='a'"}],"mark":{"type":"rule","color":"#e31a1c","strokeWidth":2},"encoding":{"x":{"field":"xlo","type":"quantitative"},"x2":{"field":"xhi"},"y":{"field":"y","type":"quantitative","scale":{"domain":[7,11]},"axis":null}}},
  {"data":{"name":"lae"},"transform":[{"filter":"datum.p=='a'"}],"mark":{"type":"tick","orient":"horizontal","color":"#e31a1c","size":9,"thickness":2},"encoding":{"y":{"field":"ylo","type":"quantitative","scale":{"domain":[7,11]},"axis":null}}},
  {"data":{"name":"lae"},"transform":[{"filter":"datum.p=='a'"}],"mark":{"type":"tick","orient":"horizontal","color":"#e31a1c","size":9,"thickness":2},"encoding":{"y":{"field":"yhi","type":"quantitative","scale":{"domain":[7,11]},"axis":null}}},
  {"data":{"name":"lae"},"transform":[{"filter":"datum.p=='a'"}],"mark":{"type":"tick","orient":"vertical","color":"#e31a1c","size":9,"thickness":2},"encoding":{"x":{"field":"xlo","type":"quantitative"},"y":{"field":"y","type":"quantitative","scale":{"domain":[7,11]},"axis":null}}},
  {"data":{"name":"lae"},"transform":[{"filter":"datum.p=='a'"}],"mark":{"type":"tick","orient":"vertical","color":"#e31a1c","size":9,"thickness":2},"encoding":{"x":{"field":"xhi","type":"quantitative"},"y":{"field":"y","type":"quantitative","scale":{"domain":[7,11]},"axis":null}}},
  {"data":{"name":"lae"},"transform":[{"filter":"datum.p=='a'"}],"mark":{"type":"point","filled":true,"size":50,"opacity":1,"strokeWidth":0},"encoding":{"y":{"field":"y","type":"quantitative","scale":{"domain":[7,11]},"axis":null},"fill":{"field":"s","type":"nominal","scale":{"domain":["LAEs"],"range":["#e31a1c"]},"legend":{"orient":"top-left","title":null,"symbolType":"M -1.39 0 L -1.11 0 M -0.53 0 L -0.25 0 M -1.39 -0.25 L -1.39 0.25 M -0.25 -0.25 L -0.25 0.25 M -0.82 -0.64 L -0.82 -0.29 M -0.82 0.29 L -0.82 0.64 M -1.07 -0.64 L -0.57 -0.64 M -1.07 0.64 L -0.57 0.64 M -0.53 0 A 0.29 0.29 0 1 1 -1.11 0 A 0.29 0.29 0 1 1 -0.53 0 Z M 0.25 0 L 0.53 0 M 1.11 0 L 1.39 0 M 0.25 -0.25 L 0.25 0.25 M 1.39 -0.25 L 1.39 0.25 M 0.82 -0.64 L 0.82 -0.29 M 0.82 0.29 L 0.82 0.64 M 0.57 -0.64 L 1.07 -0.64 M 0.57 0.64 L 1.07 0.64 M 1.11 0 A 0.29 0.29 0 1 1 0.53 0 A 0.29 0.29 0 1 1 1.11 0 Z","symbolSize":576,"symbolStrokeColor":"#e31a1c","symbolStrokeWidth":2,"labelFont":"Liberation Serif","labelFontSize":17,"labelColor":"black","padding":0,"offset":14,"labelOffset":14}}}},
  {"data":{"name":"lae"},"transform":[{"filter":"datum.p=='a'"}],"mark":{"type":"point","filled":false,"size":50,"opacity":1,"stroke":"black","strokeWidth":1},"encoding":{"y":{"field":"y","type":"quantitative","scale":{"domain":[7,11]},"axis":null}}},
  {"data":{"name":"lab"},"transform":[{"filter":"datum.p=='a'"}],"mark":{"type":"text","font":"Liberation Serif","fontStyle":"italic","fontSize":46,"baseline":"middle","align":"center","color":"black"},"encoding":{"y":{"field":"y","type":"quantitative","scale":{"domain":[7,11]},"axis":{"orient":"right","values":[7,7.5,8,8.5,9,9.5,10,10.5,11],"labels":false,"title":null}},"text":{"field":"t"}}}
 ]},
{"width":347,"height":298,
 "resolve":{"axis":{"y":"independent"}},
 "encoding":{"x":{"field":"x","type":"quantitative","scale":{"domain":[-3.75,-0.5],"nice":false,"zero":false},"axis":{"values":[-3.5,-3,-2.5,-2,-1.5,-1],"format":".1f","title":"log Z[Z⊙]"}}},
 "layer":[
  {"data":{"name":"grey"},"transform":[{"filter":"datum.p=='b' && datum.l==1"}],"mark":{"type":"area","color":"#000","opacity":0.04,"clip":true},"encoding":{"y":{"field":"lo","type":"quantitative","scale":{"domain":[7,11],"nice":false,"zero":false},"axis":{"orient":"left","values":[7,7.5,8,8.5,9,9.5,10,10.5,11],"labels":false,"title":null}},"y2":{"field":"hi"}}},
  {"data":{"name":"grey"},"transform":[{"filter":"datum.p=='b' && datum.l==2"}],"mark":{"type":"area","color":"#000","opacity":0.07,"clip":true},"encoding":{"y":{"field":"lo","type":"quantitative","scale":{"domain":[7,11]},"axis":null},"y2":{"field":"hi"}}},
  {"data":{"name":"grey"},"transform":[{"filter":"datum.p=='b' && datum.l==3"}],"mark":{"type":"area","color":"#000","opacity":0.12,"clip":true},"encoding":{"y":{"field":"lo","type":"quantitative","scale":{"domain":[7,11]},"axis":null},"y2":{"field":"hi"}}},
  {"data":{"name":"bands"},"transform":[{"filter":"datum.p=='b' && datum.s=='Disk prop.'"}],"mark":{"type":"area","color":"#d9822b","opacity":0.5,"clip":true},"encoding":{"y":{"field":"lo","type":"quantitative","scale":{"domain":[7,11]},"axis":null},"y2":{"field":"hi"}}},
  {"data":{"name":"bands"},"transform":[{"filter":"datum.p=='b' && datum.s=='Bulge prop.'"}],"mark":{"type":"area","color":"#2c7bb6","opacity":0.5,"clip":true},"encoding":{"y":{"field":"lo","type":"quantitative","scale":{"domain":[7,11]},"axis":null},"y2":{"field":"hi"}}},
  {"data":{"name":"lines"},"transform":[{"filter":"datum.p=='b' && datum.s=='Disk prop.'"}],"mark":{"type":"line","strokeWidth":5,"clip":true,"color":"#ff9c2a"},"encoding":{"y":{"field":"y","type":"quantitative","scale":{"domain":[7,11]},"axis":null}}},
  {"data":{"name":"lines"},"transform":[{"filter":"datum.p=='b' && datum.s=='Bulge prop.'"}],"mark":{"type":"line","strokeWidth":5,"clip":true,"color":"#2b7bb8"},"encoding":{"y":{"field":"y","type":"quantitative","scale":{"domain":[7,11]},"axis":null}}},
  {"data":{"name":"lae"},"transform":[{"filter":"datum.p=='b'"}],"mark":{"type":"rule","color":"#e31a1c","strokeWidth":2},"encoding":{"y":{"field":"ylo","type":"quantitative","scale":{"domain":[7,11]},"axis":null},"y2":{"field":"yhi"}}},
  {"data":{"name":"lae"},"transform":[{"filter":"datum.p=='b'"}],"mark":{"type":"rule","color":"#e31a1c","strokeWidth":2},"encoding":{"x":{"field":"xlo","type":"quantitative"},"x2":{"field":"xhi"},"y":{"field":"y","type":"quantitative","scale":{"domain":[7,11]},"axis":null}}},
  {"data":{"name":"lae"},"transform":[{"filter":"datum.p=='b'"}],"mark":{"type":"tick","orient":"horizontal","color":"#e31a1c","size":9,"thickness":2},"encoding":{"y":{"field":"ylo","type":"quantitative","scale":{"domain":[7,11]},"axis":null}}},
  {"data":{"name":"lae"},"transform":[{"filter":"datum.p=='b'"}],"mark":{"type":"tick","orient":"horizontal","color":"#e31a1c","size":9,"thickness":2},"encoding":{"y":{"field":"yhi","type":"quantitative","scale":{"domain":[7,11]},"axis":null}}},
  {"data":{"name":"lae"},"transform":[{"filter":"datum.p=='b'"}],"mark":{"type":"tick","orient":"vertical","color":"#e31a1c","size":9,"thickness":2},"encoding":{"x":{"field":"xlo","type":"quantitative"},"y":{"field":"y","type":"quantitative","scale":{"domain":[7,11]},"axis":null}}},
  {"data":{"name":"lae"},"transform":[{"filter":"datum.p=='b'"}],"mark":{"type":"tick","orient":"vertical","color":"#e31a1c","size":9,"thickness":2},"encoding":{"x":{"field":"xhi","type":"quantitative"},"y":{"field":"y","type":"quantitative","scale":{"domain":[7,11]},"axis":null}}},
  {"data":{"name":"lae"},"transform":[{"filter":"datum.p=='b'"}],"mark":{"type":"point","filled":true,"size":50,"opacity":1,"strokeWidth":0,"color":"#e31a1c"},"encoding":{"y":{"field":"y","type":"quantitative","scale":{"domain":[7,11]},"axis":null}}},
  {"data":{"name":"lae"},"transform":[{"filter":"datum.p=='b'"}],"mark":{"type":"point","filled":false,"size":50,"opacity":1,"stroke":"black","strokeWidth":1},"encoding":{"y":{"field":"y","type":"quantitative","scale":{"domain":[7,11]},"axis":null}}},
  {"data":{"name":"lab"},"transform":[{"filter":"datum.p=='b'"}],"mark":{"type":"text","font":"Liberation Serif","fontStyle":"italic","fontSize":46,"baseline":"middle","align":"center","color":"black"},"encoding":{"y":{"field":"y","type":"quantitative","scale":{"domain":[7,11]},"axis":{"orient":"right","values":[7,7.5,8,8.5,9,9.5,10,10.5,11],"labels":false,"title":null}},"text":{"field":"t"}}}
 ]},
{"width":348,"height":298,
 "resolve":{"axis":{"y":"independent"}},
 "encoding":{"x":{"field":"x","type":"quantitative","scale":{"domain":[-1.56,2.6],"nice":false,"zero":false},"axis":{"values":[-1,0,1,2],"format":"d","title":"log SFR[M⊙ h⁻¹ yr⁻¹]"}}},
 "layer":[
  {"data":{"name":"grey"},"transform":[{"filter":"datum.p=='c' && datum.l==1"}],"mark":{"type":"area","color":"#000","opacity":0.04,"clip":true},"encoding":{"y":{"field":"lo","type":"quantitative","scale":{"domain":[7,11],"nice":false,"zero":false},"axis":{"orient":"left","values":[7,7.5,8,8.5,9,9.5,10,10.5,11],"labels":false,"title":null}},"y2":{"field":"hi"}}},
  {"data":{"name":"grey"},"transform":[{"filter":"datum.p=='c' && datum.l==2"}],"mark":{"type":"area","color":"#000","opacity":0.07,"clip":true},"encoding":{"y":{"field":"lo","type":"quantitative","scale":{"domain":[7,11]},"axis":null},"y2":{"field":"hi"}}},
  {"data":{"name":"grey"},"transform":[{"filter":"datum.p=='c' && datum.l==3"}],"mark":{"type":"area","color":"#000","opacity":0.12,"clip":true},"encoding":{"y":{"field":"lo","type":"quantitative","scale":{"domain":[7,11]},"axis":null},"y2":{"field":"hi"}}},
  {"data":{"name":"bands"},"transform":[{"filter":"datum.p=='c' && datum.s=='Disk prop.'"}],"mark":{"type":"area","color":"#d9822b","opacity":0.5,"clip":true},"encoding":{"y":{"field":"lo","type":"quantitative","scale":{"domain":[7,11]},"axis":null},"y2":{"field":"hi"}}},
  {"data":{"name":"bands"},"transform":[{"filter":"datum.p=='c' && datum.s=='Bulge prop.'"}],"mark":{"type":"area","color":"#2c7bb6","opacity":0.5,"clip":true},"encoding":{"y":{"field":"lo","type":"quantitative","scale":{"domain":[7,11]},"axis":null},"y2":{"field":"hi"}}},
  {"data":{"name":"lines"},"transform":[{"filter":"datum.p=='c' && datum.s=='Disk prop.'"}],"mark":{"type":"line","strokeWidth":5,"clip":true,"color":"#ff9c2a"},"encoding":{"y":{"field":"y","type":"quantitative","scale":{"domain":[7,11]},"axis":null}}},
  {"data":{"name":"lines"},"transform":[{"filter":"datum.p=='c' && datum.s=='Bulge prop.'"}],"mark":{"type":"line","strokeWidth":5,"clip":true,"color":"#2b7bb8"},"encoding":{"y":{"field":"y","type":"quantitative","scale":{"domain":[7,11]},"axis":null}}},
  {"data":{"name":"lae"},"transform":[{"filter":"datum.p=='c'"}],"mark":{"type":"rule","color":"#e31a1c","strokeWidth":2},"encoding":{"y":{"field":"ylo","type":"quantitative","scale":{"domain":[7,11]},"axis":null},"y2":{"field":"yhi"}}},
  {"data":{"name":"lae"},"transform":[{"filter":"datum.p=='c'"}],"mark":{"type":"rule","color":"#e31a1c","strokeWidth":2},"encoding":{"x":{"field":"xlo","type":"quantitative"},"x2":{"field":"xhi"},"y":{"field":"y","type":"quantitative","scale":{"domain":[7,11]},"axis":null}}},
  {"data":{"name":"lae"},"transform":[{"filter":"datum.p=='c'"}],"mark":{"type":"tick","orient":"horizontal","color":"#e31a1c","size":9,"thickness":2},"encoding":{"y":{"field":"ylo","type":"quantitative","scale":{"domain":[7,11]},"axis":null}}},
  {"data":{"name":"lae"},"transform":[{"filter":"datum.p=='c'"}],"mark":{"type":"tick","orient":"horizontal","color":"#e31a1c","size":9,"thickness":2},"encoding":{"y":{"field":"yhi","type":"quantitative","scale":{"domain":[7,11]},"axis":null}}},
  {"data":{"name":"lae"},"transform":[{"filter":"datum.p=='c'"}],"mark":{"type":"tick","orient":"vertical","color":"#e31a1c","size":9,"thickness":2},"encoding":{"x":{"field":"xlo","type":"quantitative"},"y":{"field":"y","type":"quantitative","scale":{"domain":[7,11]},"axis":null}}},
  {"data":{"name":"lae"},"transform":[{"filter":"datum.p=='c'"}],"mark":{"type":"tick","orient":"vertical","color":"#e31a1c","size":9,"thickness":2},"encoding":{"x":{"field":"xhi","type":"quantitative"},"y":{"field":"y","type":"quantitative","scale":{"domain":[7,11]},"axis":null}}},
  {"data":{"name":"lae"},"transform":[{"filter":"datum.p=='c'"}],"mark":{"type":"point","filled":true,"size":50,"opacity":1,"strokeWidth":0,"color":"#e31a1c"},"encoding":{"y":{"field":"y","type":"quantitative","scale":{"domain":[7,11]},"axis":null}}},
  {"data":{"name":"lae"},"transform":[{"filter":"datum.p=='c'"}],"mark":{"type":"point","filled":false,"size":50,"opacity":1,"stroke":"black","strokeWidth":1},"encoding":{"y":{"field":"y","type":"quantitative","scale":{"domain":[7,11]},"axis":null}}},
  {"data":{"name":"lab"},"transform":[{"filter":"datum.p=='c'"}],"mark":{"type":"text","font":"Liberation Serif","fontStyle":"italic","fontSize":46,"baseline":"middle","align":"center","color":"black"},"encoding":{"y":{"field":"y","type":"quantitative","scale":{"domain":[7,11]},"axis":{"orient":"right","values":[7,7.5,8,8.5,9,9.5,10,10.5,11],"labels":false,"title":null}},"text":{"field":"t"}}}
 ]},
{"width":116,"height":298,"data":{"name":"pdfr"},
 "resolve":{"axis":{"x":"independent","y":"independent"}},
 "layer":[
  {"transform":[{"filter":"datum.s=='D'"}],"mark":{"type":"line","color":"#ff9c2a","strokeWidth":3,"clip":true},"encoding":{"x":{"field":"v","type":"quantitative","scale":{"type":"log","domain":[0.0021,2.8],"nice":false},"axis":{"orient":"bottom","values":[0.01,0.1,1],"labelExpr":"datum.value < 0.05 ? '10⁻²' : datum.value < 0.5 ? '10⁻¹' : '10⁰'","title":"PDF","titleFontStyle":"italic","labelFontSize":14}},"y":{"field":"y","type":"quantitative","scale":{"domain":[7,11],"nice":false,"zero":false},"axis":{"orient":"left","values":[7,7.5,8,8.5,9,9.5,10,10.5,11],"labels":false,"title":null}},"order":{"field":"y","type":"quantitative"}}},
  {"transform":[{"filter":"datum.s=='B'"}],"mark":{"type":"line","color":"#2b7bb8","strokeWidth":3,"clip":true},"encoding":{"x":{"field":"v","type":"quantitative","scale":{"type":"log","domain":[0.0021,2.8],"nice":false},"axis":{"orient":"bottom","values":[0.003,0.004,0.005,0.006,0.007,0.008,0.009,0.02,0.03,0.04,0.05,0.06,0.07,0.08,0.09,0.2,0.3,0.4,0.5,0.6,0.7,0.8,0.9,2],"labels":false,"title":null,"tickSize":-3}},"y":{"field":"y","type":"quantitative","scale":{"domain":[7,11],"nice":false,"zero":false},"axis":null},"order":{"field":"y","type":"quantitative"}}},
  {"transform":[{"filter":"datum.s=='L'"}],"mark":{"type":"line","color":"#e31a1c","strokeWidth":3,"clip":true},"encoding":{"x":{"field":"v","type":"quantitative","scale":{"type":"log","domain":[0.0021,2.8],"nice":false},"axis":{"orient":"top","values":[0.003,0.004,0.005,0.006,0.007,0.008,0.009,0.01,0.02,0.03,0.04,0.05,0.06,0.07,0.08,0.09,0.1,0.2,0.3,0.4,0.5,0.6,0.7,0.8,0.9,1,2],"labels":false,"title":null,"tickSize":-3}},"y":{"field":"y","type":"quantitative","scale":{"domain":[7,11],"nice":false,"zero":false},"axis":{"orient":"right","values":[7,7.5,8,8.5,9,9.5,10,10.5,11],"labels":false,"title":null}},"order":{"field":"y","type":"quantitative"}}}
 ]}
],
"config":{
 "view":{"stroke":"black","strokeWidth":1},
 "axis":{"grid":false,"domain":false,"tickColor":"black","tickSize":-6,"tickWidth":1,"labelFont":"DejaVu Sans","labelFontSize":15,"labelColor":"black","labelPadding":12,"titleFont":"Liberation Serif","titleFontSize":26,"titleFontWeight":"normal","titleColor":"black","labelFlush":false,"labelOverlap":false},
 "axisX":{"titlePadding":8,"titleFontSize":27},
 "legend":{"labelLimit":300,"layout":{"top-left":{"direction":"vertical","margin":0}}}
}
}
